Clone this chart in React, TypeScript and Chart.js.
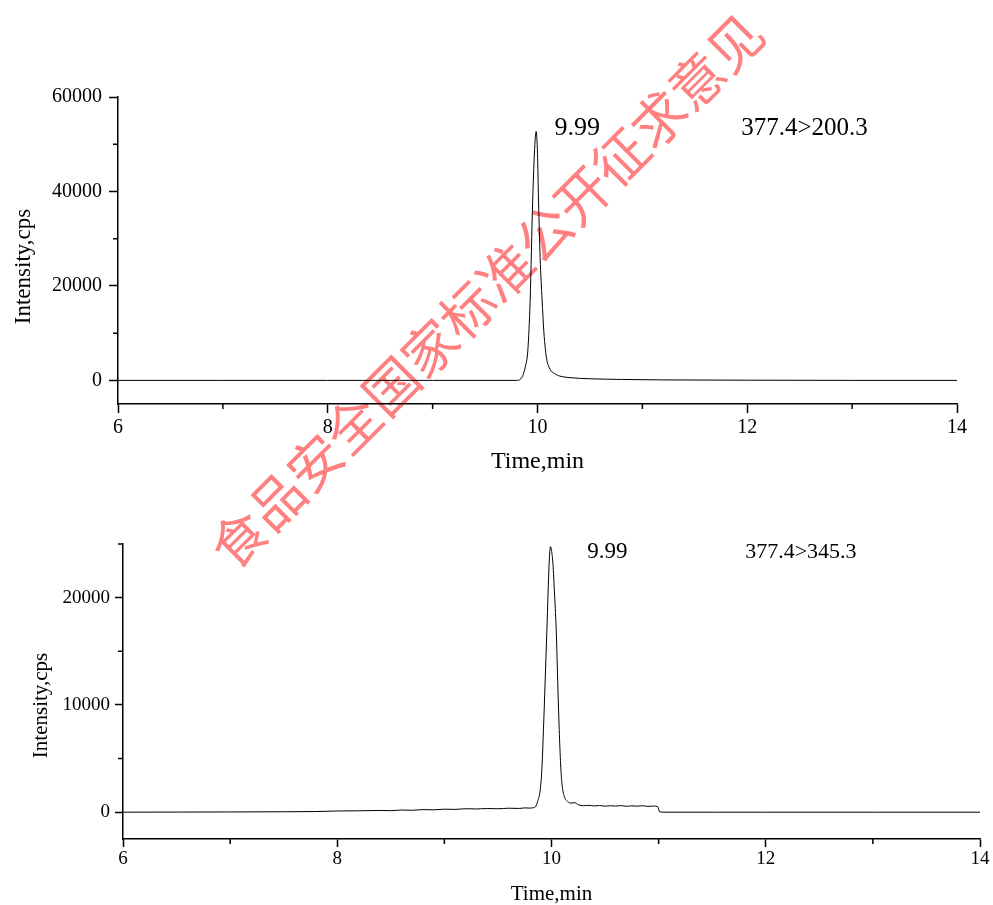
import React, { useEffect, useRef } from 'react';
import { Chart, registerables } from 'chart.js';

Chart.register(...registerables);

// ---------- data ----------
const xTicks = [6, 8, 10, 12, 14];
const xMinorTicks = [7, 9, 11, 13];

const topYTicks = [0, 20000, 40000, 60000];
const topYMinorTicks = [10000, 30000, 50000];
const bottomYTicks = [0, 10000, 20000];
const bottomYMinorTicks = [5000, 15000, 25000];

const topTimes = [
  6.0, 7.0, 8.0, 9.0, 9.8, 9.84, 9.86, 9.885, 9.908, 9.93, 9.954, 9.975, 9.987,
  10.0, 10.01, 10.025, 10.044, 10.06, 10.076, 10.09, 10.11, 10.13, 10.16, 10.2,
  10.3, 10.5, 10.8, 11.2, 12.0, 13.0, 14.0,
];
const topIntensity = [
  0, 0, 0, 0, 0, 300, 1060, 3000, 6400, 17000, 38000, 50000, 52700,
  48000, 38000, 26000, 17000, 10500, 6400, 4200, 2800, 2000, 1480, 1000,
  600, 350, 200, 100, 40, 0, 0,
];

const bottomTimes = [
  6.0, 6.5, 7.0, 7.5, 7.8, 8.0, 8.2, 8.4, 8.5, 8.6, 8.7, 8.8, 8.9, 9.0, 9.1,
  9.2, 9.3, 9.4, 9.5, 9.6, 9.7, 9.75, 9.8, 9.83, 9.85, 9.87, 9.895, 9.91,
  9.925, 9.94, 9.957, 9.978, 9.99, 10.0, 10.013, 10.03, 10.044, 10.06, 10.072,
  10.085, 10.097, 10.12, 10.15, 10.18, 10.22, 10.25, 10.3, 10.35, 10.4, 10.45,
  10.5, 10.55, 10.6, 10.65, 10.7, 10.75, 10.8, 10.85, 10.9, 10.95, 10.99,
  11.01, 11.05, 11.5, 12.0, 13.0, 14.0,
];
const bottomIntensity = [
  0, 10, 20, 40, 60, 110, 130, 160, 140, 200, 180, 240, 220, 280, 260,
  320, 300, 340, 320, 370, 350, 400, 380, 420, 500, 1000, 2100, 4000,
  7700, 12000, 17000, 23200, 24750, 24400, 23200, 20000, 17000, 11500, 7700,
  4500, 2700, 1450, 1000, 850, 880, 700, 600, 640, 580, 620,
  560, 600, 570, 610, 550, 590, 560, 600, 540, 570, 520,
  30, 0, 0, 0, 0, 0,
];

const peakLabel = '9.99';
const topTransition = '377.4>200.3';
const bottomTransition = '377.4>345.3';
const xTitle = 'Time,min';
const yTitle = 'Intensity,cps';
const watermarkText = '食品安全国家标准公开征求意见';

const SERIF = '"Liberation Serif", "Times New Roman", serif';

// ---------- plugin for minor ticks + texts ----------
const extrasPlugin = {
  id: 'extras',
  afterDraw(chart: any, _args: any, opts: any) {
    const { ctx, chartArea } = chart;
    const xs = chart.scales.x;
    const ys = chart.scales.y;
    ctx.save();
    ctx.strokeStyle = '#000';
    ctx.lineWidth = opts.axisWidth;
    ctx.beginPath();
    for (const v of opts.minorX) {
      const px = xs.getPixelForValue(v);
      ctx.moveTo(px, chartArea.bottom);
      ctx.lineTo(px, chartArea.bottom + opts.minorLen);
    }
    for (const v of opts.minorY) {
      const py = ys.getPixelForValue(v);
      ctx.moveTo(chartArea.left, py);
      ctx.lineTo(chartArea.left - opts.minorLen, py);
    }
    ctx.stroke();

    ctx.fillStyle = '#000';
    ctx.textBaseline = 'alphabetic';
    ctx.textAlign = 'left';
    for (const l of opts.labels) {
      ctx.font = `${l.size}px ${SERIF}`;
      ctx.fillText(l.text, xs.getPixelForValue(l.x), ys.getPixelForValue(l.y));
    }

    ctx.textAlign = 'center';
    ctx.font = `${opts.xTitle.size}px ${SERIF}`;
    ctx.fillText(
      opts.xTitle.text,
      (chartArea.left + chartArea.right) / 2,
      chartArea.bottom + opts.xTitle.offset
    );

    ctx.font = `${opts.yTitle.size}px ${SERIF}`;
    ctx.translate(opts.yTitle.x, (chartArea.top + chartArea.bottom) / 2 + opts.yTitle.shift);
    ctx.rotate(-Math.PI / 2);
    ctx.fillText(opts.yTitle.text, 0, 0);
    ctx.restore();
  },
};

type PanelCfg = {
  times: number[];
  values: number[];
  yMin: number;
  yMax: number;
  yTicks: number[];
  yMinor: number[];
  padding: { left: number; top: number; right: number; bottom: number };
  yWidth: number;
  xHeight: number;
  tickFont: number;
  tickLen: number;
  yPad: number;
  xPad: number;
  labels: { text: string; x: number; y: number; size: number }[];
  xTitle: { text: string; size: number; offset: number };
  yTitle: { text: string; size: number; x: number; shift: number };
};

function buildConfig(c: PanelCfg): any {
  const data = c.times.map((t, i) => ({ x: t, y: c.values[i] }));
  return {
    type: 'line',
    data: {
      datasets: [
        {
          data,
          borderColor: '#000',
          borderWidth: 1,
          pointRadius: 0,
          fill: false,
          cubicInterpolationMode: 'monotone',
        },
      ],
    },
    options: {
      animation: false,
      responsive: false,
      devicePixelRatio: 1,
      events: [],
      layout: { padding: c.padding },
      plugins: {
        legend: { display: false },
        tooltip: { enabled: false },
        extras: {
          axisWidth: 1.5,
          minorLen: 5,
          minorX: xMinorTicks,
          minorY: c.yMinor,
          labels: c.labels,
          xTitle: c.xTitle,
          yTitle: c.yTitle,
        },
      },
      scales: {
        x: {
          type: 'linear',
          min: 6,
          max: 14,
          afterBuildTicks: (scale: any) => {
            scale.ticks = xTicks.map((v) => ({ value: v }));
          },
          afterFit: (scale: any) => {
            scale.height = c.xHeight;
          },
          ticks: {
            color: '#000',
            font: { family: SERIF, size: c.tickFont },
            padding: c.xPad,
            maxRotation: 0,
            autoSkip: false,
            callback: (v: any) => String(v),
          },
          grid: {
            display: true,
            drawOnChartArea: false,
            drawTicks: true,
            tickLength: c.tickLen,
            tickColor: '#000',
            tickWidth: 1.5,
          },
          border: { display: true, color: '#000', width: 1.5 },
        },
        y: {
          type: 'linear',
          min: c.yMin,
          max: c.yMax,
          afterBuildTicks: (scale: any) => {
            scale.ticks = c.yTicks.map((v) => ({ value: v }));
          },
          afterFit: (scale: any) => {
            scale.width = c.yWidth;
          },
          ticks: {
            color: '#000',
            font: { family: SERIF, size: c.tickFont },
            padding: c.yPad,
            autoSkip: false,
            callback: (v: any) => String(v),
          },
          grid: {
            display: true,
            drawOnChartArea: false,
            drawTicks: true,
            tickLength: c.tickLen,
            tickColor: '#000',
            tickWidth: 1.5,
          },
          border: { display: true, color: '#000', width: 1.5 },
        },
      },
    },
    plugins: [extrasPlugin],
  };
}

function Panel({ cfg, top, width, height }: { cfg: PanelCfg; top: number; width: number; height: number }) {
  const ref = useRef<HTMLCanvasElement>(null);
  useEffect(() => {
    if (!ref.current) return;
    const chart = new Chart(ref.current, buildConfig(cfg));
    return () => chart.destroy();
  }, []);
  return (
    <canvas
      ref={ref}
      width={width}
      height={height}
      style={{ position: 'absolute', left: 0, top, width, height, zIndex: 1, display: 'block' }}
    />
  );
}

const topCfg: PanelCfg = {
  times: topTimes,
  values: topIntensity,
  yMin: -5000,
  yMax: 60000,
  yTicks: topYTicks,
  yMinor: topYMinorTicks,
  padding: { left: 0, top: 97, right: 36, bottom: 0 },
  yWidth: 118,
  xHeight: 86,
  tickFont: 20,
  tickLen: 9,
  yPad: 7,
  xPad: 3,
  labels: [
    { text: peakLabel, x: 10.162, y: 51960, size: 26 },
    { text: topTransition, x: 11.943, y: 51960, size: 25 },
  ],
  xTitle: { text: xTitle, size: 24, offset: 64 },
  yTitle: { text: yTitle, size: 23, x: 30, shift: 16 },
};

const bottomCfg: PanelCfg = {
  times: bottomTimes,
  values: bottomIntensity,
  yMin: -2500,
  yMax: 25000,
  yTicks: bottomYTicks,
  yMinor: bottomYMinorTicks,
  padding: { left: 0, top: 54, right: 13, bottom: 0 },
  yWidth: 123,
  xHeight: 66,
  tickFont: 19,
  tickLen: 8,
  yPad: 5,
  xPad: 1,
  labels: [
    { text: peakLabel, x: 10.333, y: 23700, size: 23 },
    { text: bottomTransition, x: 11.808, y: 23700, size: 22 },
  ],
  xTitle: { text: xTitle, size: 21, offset: 61 },
  yTitle: { text: yTitle, size: 21, x: 47, shift: 14 },
};

export default function App() {
  return (
    <div
      style={{
        position: 'absolute',
        left: 0,
        top: 0,
        width: 993,
        height: 905,
        background: '#fff',
        overflow: 'hidden',
      }}
    >
      <div
        style={{
          position: 'absolute',
          left: 485,
          top: 289,
          transform: 'translate(-50%, -50%) rotate(-45deg)',
          fontFamily: '"Noto Sans CJK SC", sans-serif',
          fontSize: 54,
          lineHeight: 1,
          whiteSpace: 'nowrap',
          color: '#ff8080',
          zIndex: 0,
        }}
      >
        {watermarkText}
      </div>
      <Panel cfg={topCfg} top={0} width={993} height={490} />
      <Panel cfg={bottomCfg} top={490} width={993} height={415} />
    </div>
  );
}
